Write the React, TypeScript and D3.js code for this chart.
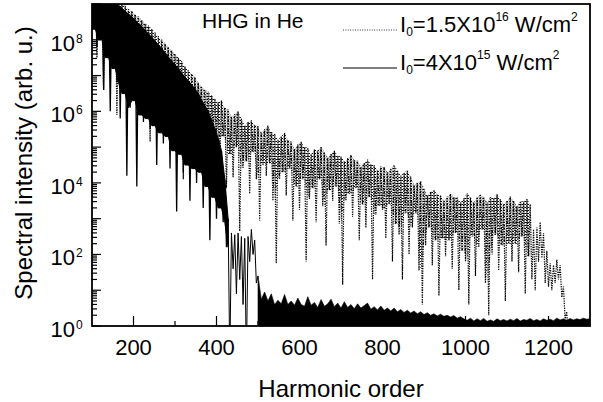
import React from "react";
import * as d3 from "d3";

// Spectrum with I0 = 1.5x10^16 W/cm^2 (dotted), log10 intensity, harmonic step 4
const dottedLogA = [9.6, 8.4, 9.55, 7.5, 9.5, 8.55, 9.4, 6.6, 9.35, 7.8, 9.3, 7.0, 9.2, 8.2, 9.15, 5.9, 9.1, 7.35, 9.0, 6.5, 8.95, 7.7, 8.85, 6.8, 8.8, 7.85, 8.7, 5.9, 8.65, 7.1, 8.55, 6.2, 8.45, 7.4, 8.4, 5.15, 8.3, 6.55, 8.2, 5.7, 8.1, 6.85, 8.0, 5.95, 7.9, 6.95, 7.8, 4.95, 7.7, 6.15, 7.6, 5.25, 7.5, 6.45, 7.4, 4.1, 7.25, 5.5, 7.15, 4.6, 7.05, 5.8, 6.95, 4.85, 6.8, 5.85, 6.7, 3.85, 6.6, 5.1, 6.55, 4.2, 6.45, 5.4, 6.35];
const dottedLogB = [5.25, 6.25, 4.6, 6.3, 5.3, 6.1, 3.85, 6.05, 4.8, 5.85, 4.15, 5.92, 5.0, 6.0, 2.65, 5.8, 4.4, 5.6, 4.6, 5.7, 3.7, 5.75, 4.85, 5.62, 4.1, 5.58, 2.95, 5.4, 4.5, 5.5, 4.2, 5.6, 4.55, 5.42, 3.5, 5.38, 1.75, 5.2, 4.1, 5.3, 4.3, 5.4, 3.65, 5.2, 4.4, 5.15, 2.95, 4.95, 3.9, 5.07, 3.25, 5.15, 4.1, 5.0, 1.8, 4.98, 3.55, 4.8, 3.85, 4.93, 2.9, 4.9, 4.1, 5.0, 3.35, 4.86, 2.25, 4.7, 3.8, 4.81, 3.5, 4.9, 3.9, 4.76, 2.85, 4.74, 1.15, 4.6, 3.5, 4.69, 3.7, 4.78, 3.05, 4.64, 3.85, 4.62, 2.4, 4.45, 3.4, 4.56, 2.75, 4.65, 3.6, 4.52, 1.3, 4.5, 3.1, 4.35, 3.35, 4.46];
const dottedLogC = [3.25, 4.44, 2.45, 4.3, 3.4, 4.4, 1.8, 4.5, 2.85, 4.35, 2.55, 4.2, 1.3, 4.28, 3.15, 4.35, 2.0, 4.18, 2.75, 3.95, 3.15, 4.0, 1.55, 4.05, 0.6, 3.85, 2.25, 3.65, 2.75, 3.75, 1.7, 3.8, 2.4, 3.68, 0.85, 3.65, 2.45, 3.5, 1.95, 3.62, 2.4, 3.7, 1.6, 3.6, 2.6, 3.6, 1.0, 3.45, 2.1, 3.58, 1.8, 3.7, 0.6, 3.59, 2.5, 3.45, 1.4, 3.6, 2.2, 3.68, 2.7, 3.6, 1.2, 3.45, 0.3, 3.6, 2.0, 3.58, 2.55, 3.68, 1.55, 3.54, 2.25, 3.4, 0.7, 3.5, 2.3, 3.62, 1.8, 3.5, 2.3, 3.35, 1.5, 3.49, 2.5, 3.48, 0.9, 3.55, 1.95, 3.4, 1.3, 2.7, 1.0, 2.75, 1.8, 2.9, 1.9, 2.6, 1.2, 2.1, 1.1, 1.75, 1.0, 1.7, 1.2, 1.85, 1.3, 1.7, 0.8, 1.1, 0.2, 0.4, -0.5];

// Spectrum with I0 = 4x10^15 W/cm^2 (solid), log10 intensity, harmonic step 4
const solidLogHigh = [9.5, 8.3, 9.45, 7.8, 9.38, 8.0, 9.3, 6.6, 9.25, 7.5, 9.18, 6.0, 9.12, 7.2, 9.05, 6.8, 8.96, 5.8, 8.88, 6.5, 8.8, 4.2, 8.72, 6.1, 8.64, 6.3, 8.55, 3.9, 8.46, 5.9, 8.36, 5.7, 8.26, 5.8, 8.17, 5.5, 8.07, 5.6, 7.97, 4.5, 7.86, 5.4, 7.75, 5.1, 7.64, 5.3, 7.52, 4.4, 7.41, 4.9, 7.3, 3.2, 7.19, 4.8, 7.07, 4.3, 6.96, 4.5, 6.85, 3.5, 6.74, 4.4, 6.63, 4.0, 6.5, 4.3, 6.32, 3.3, 6.16, 3.9, 6.0, 2.4, 5.76, 3.6, 5.52, 3.0, 5.25, 3.3, 4.9, 2.9, 4.1, 2.2, 3.0];
const solidLogCut = [-1, 2.6, 1.6, 2.55, 0.9, 2.6, 1.3, 2.5, 0.6, 2.45, -1, 2.5, 1.8, 2.7, 2.0, 2.4, 1.2];
const solidLogFloor = [1.4, 0.75, 0.95, 0.7, 0.9, 0.6, 0.72, 0.62, 0.88, 0.6, 0.7, 0.58, 0.78, 0.6, 0.55, 0.82, 0.58, 0.66, 0.52, 0.74, 0.55, 0.62, 0.75, 0.54, 0.64, 0.5, 0.68, 0.52, 0.6, 0.48, 0.62, 0.5, 0.57, 0.64, 0.47, 0.54, 0.45, 0.56, 0.44, 0.5, 0.42, 0.5, 0.4, 0.46, 0.38, 0.44, 0.36, 0.42, 0.34, 0.4, 0.32, 0.37, 0.3, 0.34, 0.28, 0.33, 0.27, 0.3, 0.25, 0.29, 0.22, 0.26, 0.2, 0.16, 0.22, 0.14, 0.2, 0.15, 0.21, 0.13, 0.17, 0.13, 0.2, 0.15, 0.18, 0.14, 0.19, 0.15, 0.21, 0.14, 0.18, 0.16, 0.21, 0.15, 0.18, 0.14, 0.2, 0.16, 0.19, 0.15, 0.22, 0.17, 0.2, 0.16, 0.21, 0.17, 0.2, 0.18, 0.22, 0.19, 0.2];

const xMajorTicks = [200, 400, 600, 800, 1000, 1200];
const xMinorTicks = [300, 500, 700, 900, 1100];
const yLabelExps = [0, 2, 4, 6, 8];

const FONT = "'Liberation Sans', Arial, Helvetica, sans-serif";
const X0 = 92, X1 = 590, Y0 = 326, Y1 = 4;

type P = [number, number];
type B = [number, number, number];
const toPts = (arr: number[], start: number, step: number): P[] =>
  arr.map((v, i) => [start + step * i, Math.pow(10, v)] as P);

// band between each local maximum and the shallower of its two neighbouring minima
const bandOf = (pts: P[], firstIsPeak: boolean): B[] => {
  const out: B[] = [];
  for (let i = firstIsPeak ? 0 : 1; i < pts.length; i += 2) {
    const a = pts[i - 1] ? pts[i - 1][1] : pts[i + 1][1];
    const b = pts[i + 1] ? pts[i + 1][1] : a;
    out.push([pts[i][0], pts[i][1], Math.max(a, b)]);
  }
  return out;
};

export default function App() {
  const x = d3.scaleLinear().domain([100, 1300]).range([X0, X1]);
  const y = d3.scaleLog().domain([1, 1e9]).range([Y0, Y1]);

  const dotted: P[] = [
    ...toPts(dottedLogA, 100, 4),
    ...toPts(dottedLogB, 400, 4),
    ...toPts(dottedLogC, 800, 4),
  ];
  const high = toPts(solidLogHigh, 100, 4);
  const cut = toPts(solidLogCut, 432, 4);
  const floor = toPts(solidLogFloor, 500, 8);

  const line = d3.line<P>().x((d) => x(d[0])).y((d) => y(d[1]));
  const area = d3.area<P>().x((d) => x(d[0])).y0(Y0 + 2).y1((d) => y(d[1]));
  const bandArea = d3.area<B>().x((d) => x(d[0])).y0((d) => y(d[2])).y1((d) => y(d[1]));

  const solidBand = bandOf(high, true);
  const dottedBand = bandOf(dotted.filter((d) => d[0] < 1160), true);

  const yMajor = d3.range(0, 10).map((e) => Math.pow(10, e));
  const yMinor: number[] = [];
  for (let e = 0; e < 9; e++) for (let k = 2; k <= 9; k++) yMinor.push(k * Math.pow(10, e));

  return (
    <svg width={603} height={402} style={{ position: "absolute", left: 0, top: 0, background: "#fff" }} fontFamily={FONT}>
      <defs>
        <clipPath id="plot">
          <rect x={X0} y={Y1} width={X1 - X0} height={Y0 - Y1} />
        </clipPath>
        <pattern id="dots" width={3} height={3} patternUnits="userSpaceOnUse">
          <rect x={0} y={0} width={1} height={1} fill="#000" />
          <rect x={1.5} y={1.5} width={1} height={1} fill="#222" />
          <rect x={2} y={0} width={1} height={1} fill="#555" />
        </pattern>
      </defs>
      <g clipPath="url(#plot)">
        <path d={bandArea(dottedBand) || ""} fill="url(#dots)" stroke="none" />
        <path d={line(dotted) || ""} fill="none" stroke="#000" strokeWidth={1.2} strokeDasharray="1.3 1.1" />
        <path d={bandArea(solidBand) || ""} fill="#000" stroke="#000" strokeWidth={1} />
        <path d={line(high) || ""} fill="none" stroke="#000" strokeWidth={1.3} />
        <path d={line([high[high.length - 1], ...cut, ...floor.slice(0, 1)]) || ""} fill="none" stroke="#000" strokeWidth={1} />
        <path d={area(floor) || ""} fill="#000" stroke="#000" strokeWidth={0.6} />
      </g>
      {/* ticks */}
      <g stroke="#000" strokeWidth={1.2}>
        {yMajor.map((v, i) => (
          <line key={"ym" + i} x1={X0} x2={X0 + 9} y1={y(v)} y2={y(v)} />
        ))}
        {yMinor.map((v, i) => (
          <line key={"yn" + i} x1={X0} x2={X0 + 5} y1={y(v)} y2={y(v)} />
        ))}
        {xMajorTicks.map((v) => (
          <line key={"xm" + v} x1={x(v)} x2={x(v)} y1={Y0} y2={Y0 - 10} />
        ))}
        {xMinorTicks.map((v) => (
          <line key={"xn" + v} x1={x(v)} x2={x(v)} y1={Y0} y2={Y0 - 5} />
        ))}
      </g>
      <rect x={X0} y={Y1} width={X1 - X0} height={Y0 - Y1} fill="none" stroke="#000" strokeWidth={1.8} />
      {/* tick labels */}
      {xMajorTicks.map((v) => (
        <text key={"xl" + v} x={x(v)} y={355} textAnchor="middle" fontSize={22}>
          {v}
        </text>
      ))}
      {yLabelExps.map((e) => (
        <g key={"yl" + e}>
          <text x={75} y={y(Math.pow(10, e)) + 11} textAnchor="end" fontSize={22}>10</text>
          <text x={76} y={y(Math.pow(10, e)) + 3} fontSize={12}>{e}</text>
        </g>
      ))}
      {/* axis titles */}
      <text x={341} y={397} textAnchor="middle" fontSize={24}>Harmonic order</text>
      <text transform="translate(32,163) rotate(-90)" textAnchor="middle" fontSize={24}>
        Spectral intensity (arb. u.)
      </text>
      {/* legend */}
      <text x={202} y={28} fontSize={21}>HHG in He</text>
      <line x1={343} x2={397} y1={30} y2={30} stroke="#000" strokeWidth={0.8} strokeDasharray="1 1.4" />
      <text x={400} y={32} fontSize={22}>
        I<tspan fontSize={12} dy={4}>0</tspan>
        <tspan dy={-4}>=1.5X10</tspan>
        <tspan fontSize={12} dy={-11}>16</tspan>
        <tspan dy={11}> W/cm</tspan>
        <tspan fontSize={12} dy={-11}>2</tspan>
      </text>
      <line x1={343} x2={397} y1={68} y2={68} stroke="#000" strokeWidth={1} />
      <text x={400} y={70} fontSize={22}>
        I<tspan fontSize={12} dy={4}>0</tspan>
        <tspan dy={-4}>=4X10</tspan>
        <tspan fontSize={12} dy={-11}>15</tspan>
        <tspan dy={11}> W/cm</tspan>
        <tspan fontSize={12} dy={-11}>2</tspan>
      </text>
    </svg>
  );
}
